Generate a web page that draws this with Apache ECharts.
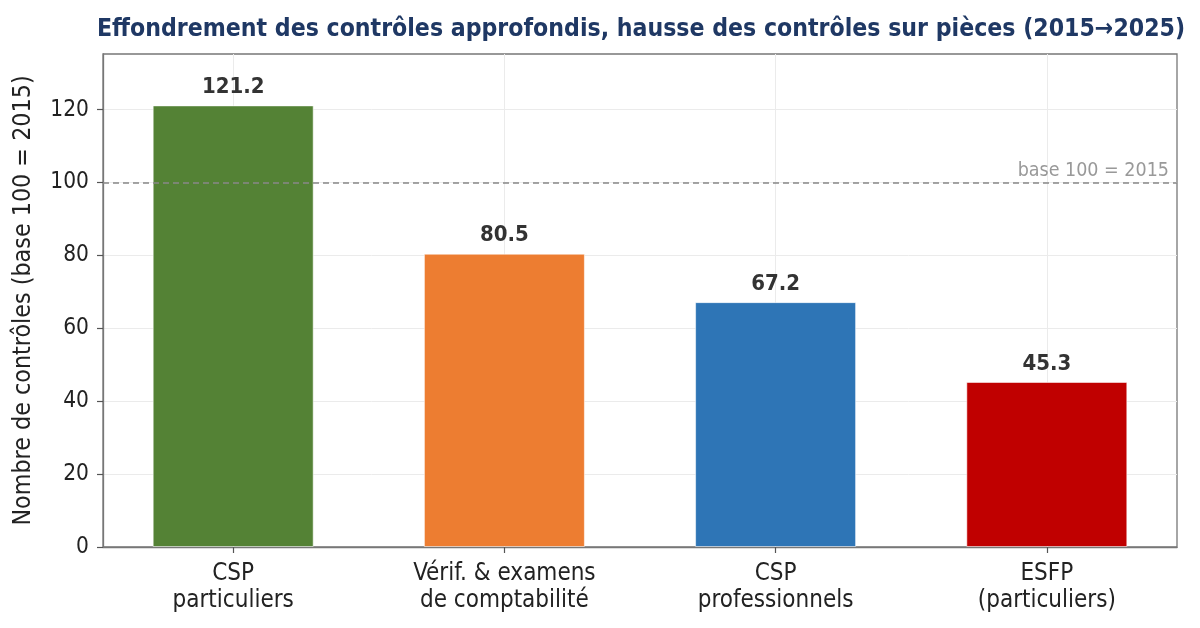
<!DOCTYPE html>
<html>
<head>
<meta charset="utf-8">
<script src="https://cdn.jsdelivr.net/npm/echarts@6/dist/echarts.min.js"></script>
<style>
  html, body { margin: 0; padding: 0; background: #fff; }
  #chart { width: 1200px; height: 628px; }
</style>
</head>
<body>
<div id="chart"></div>
<script>
// data
const categories = ['CSP\nparticuliers', 'Vérif. & examens\nde comptabilité', 'CSP\nprofessionnels', 'ESFP\n(particuliers)'];
const values = [121.2, 80.5, 67.2, 45.3];
const barColors = ['#548235', '#ED7D31', '#2E75B6', '#C00000'];
const yTicks = [0, 20, 40, 60, 80, 100, 120];
const baseLine = 100;

const positions = categories.map((c, i) => i);
const font = '"DejaVu Sans Condensed", "DejaVu Sans", sans-serif';

let chart = echarts.init(document.getElementById('chart'), null, {renderer: 'canvas'});

let option = {
    backgroundColor: '#fff',
    animation: false,
    title: {
        text: 'Effondrement des contrôles approfondis, hausse des contrôles sur pièces (2015→2025)',
        left: 636,
        textAlign: 'center',
        top: 12,
        textStyle: {fontFamily: font, fontSize: 24.6, fontWeight: 'bold', color: '#1F3864'}
    },
    grid: {
        left: 103, right: 23, top: 54, bottom: 81,
        show: true, borderColor: '#777', borderWidth: 1.3, backgroundColor: '#fff'
    },
    xAxis: {
        type: 'value',
        min: -0.48,
        max: 3.48,
        axisLine: {show: true, onZero: false, lineStyle: {color: '#777', width: 1.3}},
        axisTick: {show: true, customValues: positions, length: 6, lineStyle: {color: '#555', width: 1.2}},
        axisLabel: {
            customValues: positions,
            formatter: v => categories[Math.round(v)],
            fontFamily: font, fontSize: 24, color: '#222', lineHeight: 27, margin: 13
        },
        splitLine: {show: true, lineStyle: {color: '#EBEBEB', width: 1}}
    },
    yAxis: {
        type: 'value',
        min: 0,
        max: 135.3,
        interval: 20,
        name: 'Nombre de contrôles (base 100 = 2015)',
        nameLocation: 'middle',
        nameGap: 67,
        nameTextStyle: {fontFamily: font, fontSize: 24.8, color: '#222'},
        axisLine: {show: true, onZero: false, lineStyle: {color: '#777', width: 1.3}},
        axisTick: {show: true, customValues: yTicks, length: 6, lineStyle: {color: '#555', width: 1.2}},
        axisLabel: {
            customValues: yTicks,
            fontFamily: font, fontSize: 22.5, color: '#222', margin: 14
        },
        splitLine: {show: true, lineStyle: {color: '#EBEBEB', width: 1}}
    },
    series: [
        {
            type: 'bar',
            z: 2,
            barWidth: 161,
            data: values.map((v, i) => ({
                value: [positions[i], v],
                itemStyle: {color: barColors[i]}
            })),
            itemStyle: {borderColor: 'rgba(255,255,255,0.55)', borderWidth: 1},
            label: {
                show: true,
                position: 'top',
                distance: 7,
                formatter: p => p.value[1].toFixed(1),
                fontFamily: font, fontSize: 22, fontWeight: 'bold', color: '#333'
            },
            markLine: {
                silent: true,
                symbol: 'none',
                lineStyle: {color: '#888', width: 1.6, type: [6, 4]},
                label: {
                    show: true,
                    position: 'insideEndTop',
                    formatter: 'base 100 = 2015',
                    fontFamily: font, fontSize: 19.5, color: '#999',
                    distance: [8, 2]
                },
                data: [{yAxis: baseLine}]
            }
        }
    ]
};

chart.setOption(option);
</script>
</body>
</html>
